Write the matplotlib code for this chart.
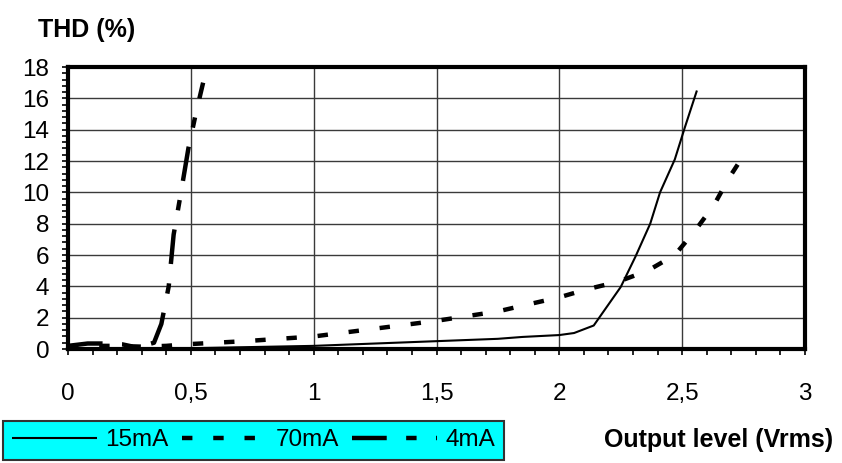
import matplotlib
matplotlib.use("Agg")
import matplotlib.pyplot as plt
from matplotlib.ticker import MultipleLocator, FuncFormatter

# THD vs output level for three bias currents
x_15ma = [0.0, 0.5, 1.0, 1.5, 1.75, 1.85, 2.0, 2.06, 2.14, 2.25, 2.31, 2.37, 2.41, 2.47, 2.51, 2.56]
y_15ma = [0.0, 0.05, 0.2, 0.5, 0.65, 0.77, 0.89, 1.02, 1.5, 3.96, 5.9, 8.0, 10.0, 12.1, 14.1, 16.5]

x_70ma = [0.0, 0.1, 0.2, 0.3, 0.4, 0.48, 0.6, 0.72, 0.86, 1.0, 1.25, 1.5, 1.75, 1.86, 2.0, 2.11,
          2.24, 2.36, 2.47, 2.55, 2.63, 2.69, 2.76]
y_70ma = [0.1, 0.2, 0.2, 0.15, 0.2, 0.3, 0.4, 0.5, 0.65, 0.8, 1.3, 1.8, 2.4, 2.8, 3.3, 3.8,
          4.3, 5.0, 6.0, 7.5, 9.2, 10.9, 12.6]

x_4ma = [0.0, 0.08, 0.15, 0.22, 0.28, 0.35, 0.38, 0.41, 0.43, 0.46, 0.49, 0.52, 0.55]
y_4ma = [0.2, 0.35, 0.35, 0.3, 0.1, 0.4, 1.6, 4.0, 7.3, 10.0, 12.8, 15.0, 17.0]

series = [("15mA", x_15ma, y_15ma), ("70mA", x_70ma, y_70ma), ("4mA", x_4ma, y_4ma)]
styles = {
    "15mA": dict(linewidth=1.5, linestyle="-"),
    "70mA": dict(linewidth=3.2, linestyle=(0, (7.5, 15))),
    "4mA": dict(linewidth=3.2, linestyle=(0, (25, 14, 7.5, 14))),
}

plt.rcParams["font.family"] = ["Liberation Sans", "DejaVu Sans"]
plt.rcParams["lines.scale_dashes"] = False

fig = plt.figure(figsize=(8.42, 4.63), dpi=100)
ax = fig.add_axes([68 / 842, 1 - 349 / 463, 737 / 842, 282 / 463])

handles = []
for name, xs, ys in series:
    ln, = ax.plot(xs, ys, color="black", dash_capstyle="butt", solid_capstyle="butt",
                  label=name, **styles[name])
    handles.append(ln)

ax.set_xlim(0, 3)
ax.set_ylim(0, 18)
ax.xaxis.set_major_locator(MultipleLocator(0.5))
ax.xaxis.set_minor_locator(MultipleLocator(0.1))
ax.yaxis.set_major_locator(MultipleLocator(2))
ax.yaxis.set_minor_locator(MultipleLocator(0.4))
ax.xaxis.set_major_formatter(FuncFormatter(lambda v, p: f"{v:g}".replace(".", ",")))

ax.grid(True, which="major", color="#3a3a3a", linewidth=1.0)
for s in ax.spines.values():
    s.set_linewidth(3.0)
ax.tick_params(which="both", direction="out", length=4.5, width=1.2, labelsize=17.5)
ax.tick_params(axis="x", pad=20)
ax.tick_params(axis="y", pad=9)

fig.text(38 / 842, 1 - 30 / 463, "THD (%)", fontsize=18, fontweight="bold", va="center")
fig.text(833 / 842, 1 - 440 / 463, "Output level (Vrms)", fontsize=18, fontweight="bold",
         va="center", ha="right")

leg = fig.legend(handles=handles, loc="lower left", bbox_to_anchor=(3 / 842, 3 / 463),
                 ncol=3, fontsize=17.5, handlelength=3.5, handletextpad=0.35,
                 columnspacing=0.55, borderpad=0.35, borderaxespad=0, fancybox=False,
                 frameon=True)
leg.get_frame().set_facecolor("#00ffff")
leg.get_frame().set_edgecolor("#333333")
leg.get_frame().set_linewidth(1.5)
leg.get_frame().set_alpha(1)

fig.savefig("out.png", dpi=100)
